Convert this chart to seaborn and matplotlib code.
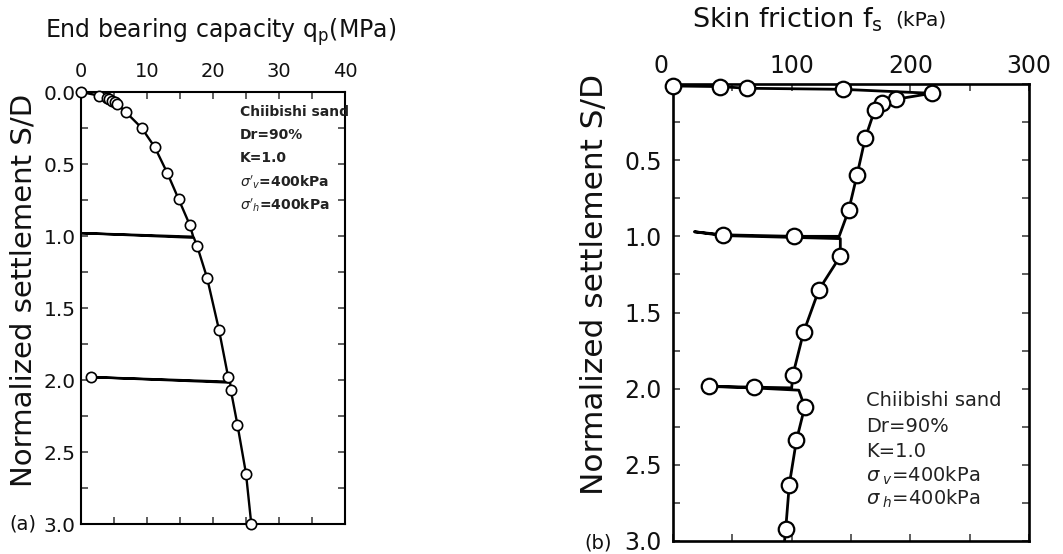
import matplotlib
matplotlib.use("Agg")
import matplotlib.pyplot as plt
import matplotlib.transforms as mtransforms
import seaborn as sns
import pandas as pd
from matplotlib.ticker import MultipleLocator

# ---------------- data ----------------
# (a) end bearing capacity: full load path incl. unload/reload loops
qp_path = [0, 2.7, 3.9, 4.3, 4.7, 5.1, 5.4, 6.8, 9.2, 11.2, 13.1, 14.8, 16.5, 17.0, 0.0,
           17.1, 17.6, 19.1, 20.9, 22.3, 22.5, 1.5, 22.6, 22.7, 23.7, 25.0, 25.8]
sd_path_a = [0, 0.025, 0.045, 0.052, 0.06, 0.068, 0.08, 0.14, 0.25, 0.385, 0.565, 0.745, 0.925,
             1.005, 0.98, 1.012, 1.07, 1.29, 1.65, 1.98, 2.012, 1.98, 2.018, 2.07, 2.31, 2.65, 3.0]
# measured points (open circles)
qp_pts = [0, 2.7, 3.9, 4.3, 4.7, 5.1, 5.4, 6.8, 9.2, 11.2, 13.1, 14.8, 16.5, 17.6, 19.1,
          20.9, 22.3, 1.5, 22.7, 23.7, 25.0, 25.8]
sd_pts_a = [0, 0.025, 0.045, 0.052, 0.06, 0.068, 0.08, 0.14, 0.25, 0.385, 0.565, 0.745, 0.925,
            1.07, 1.29, 1.65, 1.98, 1.98, 2.07, 2.31, 2.65, 3.0]

# (b) skin friction: full path
fs_path = [0, 39.5, 62.6, 143, 218, 188, 176, 170, 162, 155, 148, 140, 102, 42, 18, 42, 141,
           141, 123, 110, 101, 100, 68, 30, 68, 106, 111, 104, 98, 95, 94]
sd_path_b = [0.013, 0.017, 0.028, 0.035, 0.061, 0.10, 0.125, 0.17, 0.355, 0.60, 0.83, 1.0, 1.0,
             0.99, 0.97, 0.995, 1.015, 1.13, 1.35, 1.63, 1.91, 1.995, 1.99, 1.985, 1.995, 2.01,
             2.12, 2.34, 2.63, 2.92, 3.0]
fs_pts = [0, 39.5, 62.6, 143, 218, 188, 176, 170, 162, 155, 148, 42, 102, 141, 123, 110, 101,
          30, 68, 111, 104, 98, 95]
sd_pts_b = [0.013, 0.017, 0.028, 0.035, 0.061, 0.10, 0.125, 0.17, 0.355, 0.60, 0.83, 0.99, 1.0,
            1.13, 1.35, 1.63, 1.91, 1.985, 1.99, 2.12, 2.34, 2.63, 2.92]

xticks_a = [0, 10, 20, 30, 40]
yticks = [0.0, 0.5, 1.0, 1.5, 2.0, 2.5, 3.0]
ylabels_a = ["0.0", "0.5", "1.0", "1.5", "2.0", "2.5", "3.0"]
xticks_b = [0, 100, 200, 300]
ylabels_b = ["", "0.5", "1.0", "1.5", "2.0", "2.5", "3.0"]

notes_a = ["Chiibishi sand", "Dr=90%", "K=1.0", r"$\sigma'_v$=400kPa", r"$\sigma'_h$=400kPa"]
notes_b = ["Chiibishi sand", "Dr=90%", "K=1.0", r"$\sigma_{\ v}$=400kPa", r"$\sigma_{\ h}$=400kPa"]

# ---------------- figure ----------------
sns.set_theme(style="white")
plt.rcParams["font.family"] = ["DejaVu Sans"]
plt.rcParams["mathtext.fontset"] = "dejavusans"

W, H = 1063, 554
fig = plt.figure(figsize=(W / 100, H / 100), dpi=100)


def box(x0, y0, x1, y1):
    return [x0 / W, 1 - y1 / H, (x1 - x0) / W, (y1 - y0) / H]


axA = fig.add_axes(box(81, 92, 345, 524))
axB = fig.add_axes(box(673, 84, 1029, 541))

dfa_line = pd.DataFrame({"qp": qp_path, "sd": sd_path_a})
dfa_pts = pd.DataFrame({"qp": qp_pts, "sd": sd_pts_a})
dfb_line = pd.DataFrame({"fs": fs_path, "sd": sd_path_b})
dfb_pts = pd.DataFrame({"fs": fs_pts, "sd": sd_pts_b})

sns.lineplot(data=dfa_line, x="qp", y="sd", sort=False, estimator=None, color="black",
             lw=1.7, ax=axA, zorder=2)
sns.scatterplot(data=dfa_pts, x="qp", y="sd", s=55, facecolor="white", edgecolor="black",
                linewidth=1.2, ax=axA, zorder=3, clip_on=False)

sns.lineplot(data=dfb_line, x="fs", y="sd", sort=False, estimator=None, color="black",
             lw=2.0, ax=axB, zorder=2)
sns.scatterplot(data=dfb_pts, x="fs", y="sd", s=125, facecolor="white", edgecolor="black",
                linewidth=1.6, ax=axB, zorder=3, clip_on=False)

for ax, xlim, xmaj, xmin, lsize_x, lsize_y, padx, pady in [
    (axA, (0, 40), 10, 5, 14, 14.5, 8, 4),
    (axB, (0, 300), 100, 50, 17, 17, 4.5, 8),
]:
    ax.set_xlim(*xlim)
    ax.set_ylim(3.0, 0.0)
    ax.xaxis.set_major_locator(MultipleLocator(xmaj))
    ax.xaxis.set_minor_locator(MultipleLocator(xmin))
    ax.yaxis.set_minor_locator(MultipleLocator(0.25))
    ax.tick_params(axis="x", which="both", direction="in", top=True, bottom=True,
                   labeltop=True, labelbottom=False, length=5, width=1.1, color="#333333",
                   labelsize=lsize_x, pad=padx, labelcolor="#111111")
    ax.tick_params(axis="y", which="both", direction="in", left=True, right=True,
                   length=5, width=1.1, color="#333333", labelsize=lsize_y, pad=pady,
                   labelcolor="#111111")
    ax.set_xlabel("")
    ax.set_ylabel("")
    for s in ax.spines.values():
        s.set_color("black")
        s.set_linewidth(1.5 if ax is axA else 1.9)
        s.set_visible(True)

axA.set_xticks(xticks_a)
axA.set_yticks(yticks)
axA.set_yticklabels(ylabels_a)
axB.set_xticks(xticks_b)
axB.set_yticks(yticks)
axB.set_yticklabels(ylabels_b)

# the "0" label of panel (b) sits a little left of its tick in the original
zero_lab = axB.xaxis.get_majorticklabels()[0]
for tk in axB.xaxis.get_major_ticks()[:1]:
    tk.label2.set_transform(tk.label2.get_transform() +
                            mtransforms.ScaledTranslation(-12 / 100, 0, fig.dpi_scale_trans))

# annotations
ya = [0.14, 0.30, 0.46, 0.625, 0.785]
for t, y in zip(notes_a, ya):
    axA.text(24.1, y, t, fontsize=10, fontweight="bold", color="#222222", va="center", ha="left")
yb = [2.075, 2.25, 2.41, 2.57, 2.725]
for t, y in zip(notes_b, yb):
    axB.text(162.5, y, t, fontsize=14, color="#222222", va="center", ha="left")

# titles / axis labels
fig.text(221 / W, 1 - 32 / H, r"End bearing capacity q$_\mathregular{p}$(MPa)", fontsize=17,
         ha="center", va="center", color="#111111")
t1 = fig.text(692 / W, 1 - 20 / H, r"Skin friction f$_\mathregular{s}$", fontsize=19.5,
              ha="left", va="center", color="#111111")
axB.annotate("(kPa)", xy=(1, 0.5), xycoords=t1, xytext=(9, 0), textcoords="offset points",
             fontsize=14.5, ha="left", va="center", color="#111111", annotation_clip=False)

fig.text(24 / W, 1 - 290 / H, "Normalized settlement S/D", fontsize=21, rotation=90,
         ha="center", va="center", color="#111111")
fig.text(594 / W, 1 - 284 / H, "Normalized settlement S/D", fontsize=22.5, rotation=90,
         ha="center", va="center", color="#111111")
fig.text(23 / W, 1 - 524 / H, "(a)", fontsize=14, ha="center", va="center", color="#111111")
fig.text(598 / W, 1 - 543 / H, "(b)", fontsize=14, ha="center", va="center", color="#111111")

fig.savefig("out.png", dpi=100)
